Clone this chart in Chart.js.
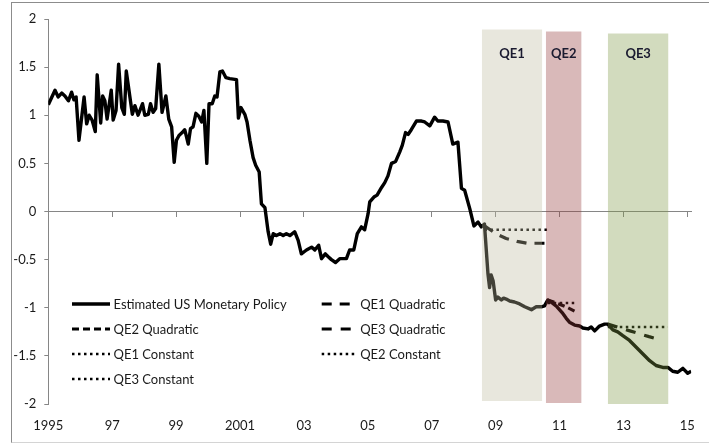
<!DOCTYPE html>
<html>
<head>
<meta charset="utf-8">
<script src="https://cdn.jsdelivr.net/npm/chart.js@4.4.1/dist/chart.umd.min.js"></script>
<style>
  html, body { margin: 0; padding: 0; background: #fff; overflow: hidden; }
  #wrap { position: relative; width: 709px; height: 443px; overflow: hidden; }
  #frame { position: absolute; left: 11px; top: 2px; width: 720px; height: 439px;
           border: 1px solid #8c8c8c; border-bottom-color: #d4d4d4; }
  #chart { position: absolute; left: 0; top: 0; }
</style>
</head>
<body>
<div id="wrap">
  <div id="frame"></div>
  <canvas id="chart" width="709" height="443"></canvas>
</div>
<script>
// Estimated US monetary policy stance, 1995 - 2015, with QE counterfactuals

// x axis ticks
const xTickYears = [1995, 1997, 1999, 2001, 2003, 2005, 2007, 2009, 2011, 2013, 2015];
const xTickLabels = ['1995', '97', '99', '2001', '03', '05', '07', '09', '11', '13', '15'];
const yTickValues = [-2, -1.5, -1, -0.5, 0, 0.5, 1, 1.5, 2];
const yTickLabels = ['-2', '-1.5', '-1', '-0.5', '0', '0.5', '1', '1.5', '2'];

// main series
const policyYears = [
  1995.00, 1995.21, 1995.31, 1995.42, 1995.52, 1995.63, 1995.73, 1995.80, 1995.87, 1995.96,
  1996.12, 1996.20, 1996.28, 1996.37, 1996.47, 1996.53, 1996.64, 1996.70, 1996.77, 1996.84,
  1996.97, 1997.03, 1997.12, 1997.20, 1997.30, 1997.38, 1997.44, 1997.63, 1997.71, 1997.81,
  1997.95, 1998.02, 1998.13, 1998.20, 1998.28, 1998.36, 1998.46, 1998.56, 1998.68, 1998.77,
  1998.86, 1998.94, 1999.01, 1999.09, 1999.19, 1999.27, 1999.38, 1999.45, 1999.53, 1999.62,
  1999.71, 1999.80, 1999.87, 1999.96, 2000.03, 2000.13, 2000.21, 2000.28, 2000.37, 2000.45,
  2000.56, 2000.68, 2000.89, 2000.95, 2001.03, 2001.15, 2001.22, 2001.31, 2001.41, 2001.49,
  2001.60, 2001.67, 2001.78, 2001.88, 2001.96, 2002.04, 2002.14, 2002.25, 2002.35, 2002.45,
  2002.56, 2002.71, 2002.82, 2002.92, 2003.08, 2003.24, 2003.34, 2003.46, 2003.55, 2003.67,
  2003.76, 2003.86, 2003.99, 2004.12, 2004.33, 2004.43, 2004.56, 2004.67, 2004.80, 2004.90,
  2005.01, 2005.06, 2005.19, 2005.29, 2005.43, 2005.53, 2005.63, 2005.74, 2005.87, 2006.00,
  2006.08, 2006.18, 2006.26, 2006.36, 2006.52, 2006.68, 2006.78, 2006.94, 2007.09, 2007.19,
  2007.35, 2007.51, 2007.66, 2007.82, 2007.93, 2008.03, 2008.19, 2008.32, 2008.45, 2008.55,
  2008.65, 2008.76, 2008.81, 2008.86, 2008.92, 2009.00, 2009.07, 2009.18, 2009.25, 2009.33,
  2009.44, 2009.59, 2009.75, 2009.91, 2010.12, 2010.27, 2010.43, 2010.53, 2010.63, 2010.77,
  2010.92, 2011.08, 2011.21, 2011.31, 2011.47, 2011.63, 2011.73, 2011.89, 2011.99, 2012.10,
  2012.25, 2012.41, 2012.51, 2012.67, 2012.82, 2012.98, 2013.19, 2013.40, 2013.61, 2013.82,
  2014.02, 2014.23, 2014.39, 2014.54, 2014.70, 2014.86, 2015.01, 2015.12
];
const policyValues = [
  1.11, 1.26, 1.19, 1.23, 1.20, 1.15, 1.24, 1.16, 1.19, 0.74,
  1.19, 0.91, 1.00, 0.95, 0.83, 1.42, 0.92, 1.20, 1.15, 0.96,
  1.26, 0.95, 1.05, 1.53, 1.08, 1.01, 1.46, 1.01, 1.10, 1.00,
  1.12, 1.00, 1.01, 1.12, 1.03, 1.07, 1.53, 1.03, 1.20, 0.96,
  0.88, 0.51, 0.74, 0.79, 0.82, 0.85, 0.70, 0.86, 0.88, 1.02,
  0.99, 0.93, 1.05, 0.50, 1.12, 1.12, 1.20, 1.19, 1.45, 1.46,
  1.39, 1.38, 1.37, 0.97, 1.08, 1.01, 0.93, 0.74, 0.56, 0.48,
  0.41, 0.08, 0.04, -0.21, -0.34, -0.23, -0.25, -0.23, -0.25, -0.23,
  -0.25, -0.21, -0.30, -0.44, -0.40, -0.37, -0.40, -0.35, -0.49, -0.44,
  -0.47, -0.50, -0.53, -0.49, -0.49, -0.40, -0.40, -0.23, -0.16, -0.19,
  -0.02, 0.10, 0.15, 0.17, 0.25, 0.30, 0.37, 0.50, 0.52, 0.62,
  0.69, 0.82, 0.80, 0.85, 0.94, 0.94, 0.93, 0.89, 0.98, 0.94,
  0.94, 0.93, 0.70, 0.72, 0.24, 0.22, 0.03, -0.15, -0.11, -0.16,
  -0.13, -0.65, -0.79, -0.66, -0.72, -0.92, -0.89, -0.92, -0.90, -0.91,
  -0.93, -0.94, -0.96, -0.99, -1.02, -0.99, -0.99, -0.98, -0.92, -0.95,
  -0.99, -1.05, -1.11, -1.15, -1.18, -1.19, -1.21, -1.22, -1.20, -1.24,
  -1.19, -1.17, -1.17, -1.23, -1.25, -1.29, -1.34, -1.41, -1.48, -1.55,
  -1.60, -1.62, -1.62, -1.66, -1.67, -1.63, -1.68, -1.66
];

// counterfactual paths
const qe1QuadYears = [2008.65, 2008.83, 2009.00, 2009.33, 2009.67, 2010.00, 2010.33, 2010.60];
const qe1QuadValues = [-0.15, -0.19, -0.23, -0.28, -0.31, -0.33, -0.33, -0.33];
const qe2QuadYears = [2010.63, 2010.90, 2011.20, 2011.50];
const qe2QuadValues = [-0.92, -0.95, -0.99, -1.04];
const qe3QuadYears = [2012.51, 2012.90, 2013.20, 2013.50, 2013.80, 2014.13];
const qe3QuadValues = [-1.17, -1.21, -1.24, -1.27, -1.30, -1.33];
const qe1ConstYears = [2008.65, 2010.69];
const qe1ConstValues = [-0.19, -0.19];
const qe2ConstYears = [2010.63, 2011.50];
const qe2ConstValues = [-0.95, -0.95];
const qe3ConstYears = [2012.51, 2014.39];
const qe3ConstValues = [-1.20, -1.20];

// QE periods (shaded)
const qeNames = ['QE1', 'QE2', 'QE3'];
const qeStart = [2008.57, 2010.57, 2012.51];
const qeEnd = [2010.46, 2011.69, 2014.41];
const qeTop = [1.89, 1.87, 1.85];
const qeBottom = [-1.97, -1.99, -2.0];
const qeLabelLevel = 1.64;
const qeColors = ['rgba(188,185,157,0.35)', 'rgba(146,55,55,0.35)', 'rgba(126,152,69,0.35)'];

const axisGray = '#868686';
const textColor = '#1a1a1a';
const FONT = 'Lato';

function pts(xs, ys) {
    return xs.map((x, i) => ({ x: x, y: ys[i] }));
}

function lineSet(label, xs, ys, width, dash) {
    return {
        label: label,
        data: pts(xs, ys),
        borderColor: '#000',
        borderWidth: width,
        borderDash: dash,
        borderJoinStyle: 'round',
        pointRadius: 0,
        fill: false,
        tension: 0,
        order: 1,
        inLegend: true
    };
}

const datasets = [
    lineSet('Estimated US Monetary Policy', policyYears, policyValues, 3.4, []),
    lineSet('QE1 Quadratic', qe1QuadYears, qe1QuadValues, 3.2, [10, 8]),
    lineSet('QE2 Quadratic', qe2QuadYears, qe2QuadValues, 3.2, [7, 4]),
    lineSet('QE3 Quadratic', qe3QuadYears, qe3QuadValues, 3.2, [10, 9]),
    lineSet('QE1 Constant', qe1ConstYears, qe1ConstValues, 2.6, [2.5, 3.5]),
    lineSet('QE2 Constant', qe2ConstYears, qe2ConstValues, 2.6, [2.5, 3.5]),
    lineSet('QE3 Constant', qe3ConstYears, qe3ConstValues, 2.6, [2.5, 3.5])
];

// shaded QE windows: flat line at the top, filled down to the bottom value
qeNames.forEach((name, i) => {
    datasets.push({
        label: name,
        data: [{ x: qeStart[i], y: qeTop[i] }, { x: qeEnd[i], y: qeTop[i] }],
        borderColor: 'rgba(0,0,0,0)',
        borderWidth: 1,
        backgroundColor: qeColors[i],
        fill: { value: qeBottom[i] },
        pointRadius: 0,
        order: 0
    });
});

// Legend drawn inside the plot, two columns like the original
const inlineLegend = {
    id: 'inlineLegend',
    afterDraw(chart) {
        const ctx = chart.ctx;
        const colX = [72, 321.7];
        const sampleW = [38, 35];
        const rowY0 = 304, rowGap = 25;
        ctx.save();
        ctx.font = '13px ' + FONT;
        ctx.textBaseline = 'middle';
        let k = 0;
        chart.data.datasets.forEach(ds => {
            if (!ds.inLegend) return;
            const col = k % 2, row = Math.floor(k / 2);
            const x = colX[col], y = rowY0 + row * rowGap;
            ctx.strokeStyle = ds.borderColor;
            ctx.lineWidth = ds.borderWidth;
            ctx.setLineDash(ds.borderDash || []);
            ctx.beginPath();
            ctx.moveTo(x, y);
            ctx.lineTo(x + sampleW[col], y);
            ctx.stroke();
            ctx.setLineDash([]);
            ctx.fillStyle = textColor;
            ctx.fillText(ds.label, x + sampleW[col] + 3.5, y + 0.5);
            k++;
        });
        ctx.restore();
    }
};

// QE1/QE2/QE3 names over the shaded windows
const qeLabels = {
    id: 'qeLabels',
    afterDatasetsDraw(chart) {
        const ctx = chart.ctx;
        const xs = chart.scales.x, ys = chart.scales.y;
        ctx.save();
        ctx.font = 'bold 13px ' + FONT;
        ctx.fillStyle = '#1b1b30';
        ctx.textAlign = 'center';
        ctx.textBaseline = 'middle';
        qeNames.forEach((name, i) => {
            const cx = xs.getPixelForValue((qeStart[i] + qeEnd[i]) / 2);
            ctx.fillText(name, cx, ys.getPixelForValue(qeLabelLevel));
        });
        ctx.restore();
    }
};

const setXTicks = scale => { scale.ticks = xTickYears.map(v => ({ value: v })); };

new Chart(document.getElementById('chart'), {
    type: 'line',
    data: { datasets: datasets },
    plugins: [qeLabels, inlineLegend],
    options: {
        responsive: false,
        animation: false,
        devicePixelRatio: 1,
        layout: { padding: { top: 19, right: 16.7, bottom: 0, left: 10 } },
        plugins: {
            legend: { display: false },
            tooltip: { enabled: false }
        },
        font: { family: FONT },
        scales: {
            x: {
                type: 'linear',
                position: 'bottom',
                min: 1995,
                max: 2015.12,
                afterBuildTicks: setXTicks,
                afterFit: s => { s.height = 39; },
                ticks: {
                    callback: (v, i) => xTickLabels[i],
                    padding: 14,
                    maxRotation: 0,
                    autoSkip: false,
                    color: textColor,
                    font: { family: FONT, size: 13 }
                },
                grid: { display: false, drawTicks: false },
                border: { display: false }
            },
            x0: {
                type: 'linear',
                axis: 'x',
                position: { y: 0 },
                min: 1995,
                max: 2015.12,
                afterBuildTicks: setXTicks,
                ticks: { display: false },
                grid: { drawOnChartArea: false, drawTicks: true, tickLength: 5, color: axisGray },
                border: { display: true, color: axisGray }
            },
            y: {
                type: 'linear',
                min: -2,
                max: 2,
                afterBuildTicks: s => { s.ticks = yTickValues.map(v => ({ value: v })); },
                afterFit: s => { s.width = 38.3; },
                ticks: {
                    callback: (v, i) => yTickLabels[i],
                    padding: 8,
                    color: textColor,
                    font: { family: FONT, size: 13 }
                },
                grid: { drawOnChartArea: false, drawTicks: true, tickLength: 4, color: axisGray },
                border: { display: true, color: axisGray }
            }
        }
    }
});
</script>
</body>
</html>
